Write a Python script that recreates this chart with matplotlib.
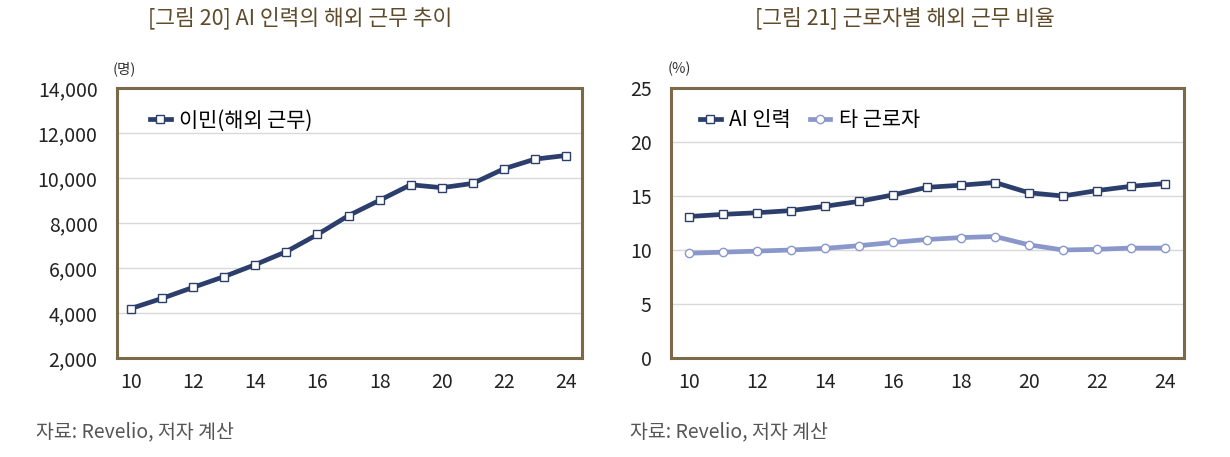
import matplotlib
matplotlib.use("Agg")
import matplotlib.pyplot as plt
import numpy as np

plt.rcParams['font.family'] = ['Noto Sans CJK KR', 'DejaVu Sans']

# Data
years = [10, 11, 12, 13, 14, 15, 16, 17, 18, 19, 20, 21, 22, 23, 24]
abroad = [4200, 4650, 5140, 5620, 6150, 6730, 7490, 8330, 9010, 9700,
          9570, 9760, 10410, 10840, 11000]
ai_share = [13.1, 13.3, 13.45, 13.65, 14.05, 14.5, 15.1, 15.8, 16.0, 16.25,
            15.3, 15.0, 15.5, 15.9, 16.15]
other_share = [9.7, 9.8, 9.9, 10.0, 10.15, 10.4, 10.7, 10.97, 11.15, 11.25,
               10.48, 10.0, 10.06, 10.18, 10.18]
xticks = [10, 12, 14, 16, 18, 20, 22, 24]

navy = "#2b3e6c"
light = "#8a97cb"
frame = "#7b6a4a"
title_col = "#5f4a2a"
grid_col = "#d9d9d9"

fig = plt.figure(figsize=(12.3, 4.57), dpi=100)

ax1 = fig.add_axes([117 / 1230, 99 / 457, 465 / 1230, 270 / 457])
ax2 = fig.add_axes([671 / 1230, 99 / 457, 513 / 1230, 270 / 457])


def style(ax):
    for s in ax.spines.values():
        s.set_color(frame)
        s.set_linewidth(2.2)
    ax.grid(axis="y", color=grid_col, linewidth=1)
    ax.set_axisbelow(True)
    ax.tick_params(length=0, labelsize=14, colors="#222222")
    ax.tick_params(axis="x", pad=10)
    ax.tick_params(axis="y", pad=14)
    ax.set_xticks(xticks)


# ===== Left: overseas work of AI workers =====
ax1.plot(years, abroad, color=navy, lw=3.4, marker="s", ms=6,
         mfc="white", mec=navy, mew=1, label="이민(해외 근무)")
ax1.set_xlim(9.55, 24.51)
ax1.set_ylim(2000, 14000)
ax1.set_yticks(range(2000, 14001, 2000))
ax1.set_yticklabels([f"{v:,}" for v in range(2000, 14001, 2000)])
style(ax1)
ax1.legend(loc="upper left", bbox_to_anchor=(0.03, 0.99), frameon=False,
           fontsize=15, handlelength=1.0, handletextpad=0.4)

# ===== Right: share by worker type =====
ax2.plot(years, ai_share, color=navy, lw=3.4, marker="s", ms=6,
         mfc="white", mec=navy, mew=1, label="AI 인력")
ax2.plot(years, other_share, color=light, lw=3.4, marker="o", ms=6,
         mfc="white", mec=light, mew=1, label="타 근로자")
ax2.set_xlim(9.47, 24.56)
ax2.set_ylim(0, 25)
ax2.set_yticks(range(0, 26, 5))
style(ax2)
ax2.legend(loc="upper left", bbox_to_anchor=(0.02, 0.99), frameon=False,
           fontsize=15, ncol=2, handlelength=1.0, handletextpad=0.4,
           columnspacing=0.9)

# Titles, units, sources
fig.text(300 / 1230, 1 - 18 / 457, "[그림 20] AI 인력의 해외 근무 추이",
         ha="center", va="center", fontsize=15.5, color=title_col, fontweight="medium")
fig.text(905 / 1230, 1 - 18 / 457, "[그림 21] 근로자별 해외 근무 비율",
         ha="center", va="center", fontsize=15.5, color=title_col, fontweight="medium")
fig.text(113 / 1230, 1 - 69 / 457, "(명)", ha="left", va="center",
         fontsize=10.5, color="#333333")
fig.text(668 / 1230, 1 - 69 / 457, "(%)", ha="left", va="center",
         fontsize=10.5, color="#333333")
fig.text(36 / 1230, 1 - 432 / 457, "자료: Revelio, 저자 계산", ha="left",
         va="center", fontsize=14, color="#555555")
fig.text(630 / 1230, 1 - 432 / 457, "자료: Revelio, 저자 계산", ha="left",
         va="center", fontsize=14, color="#555555")

fig.savefig("out.png", dpi=100)
